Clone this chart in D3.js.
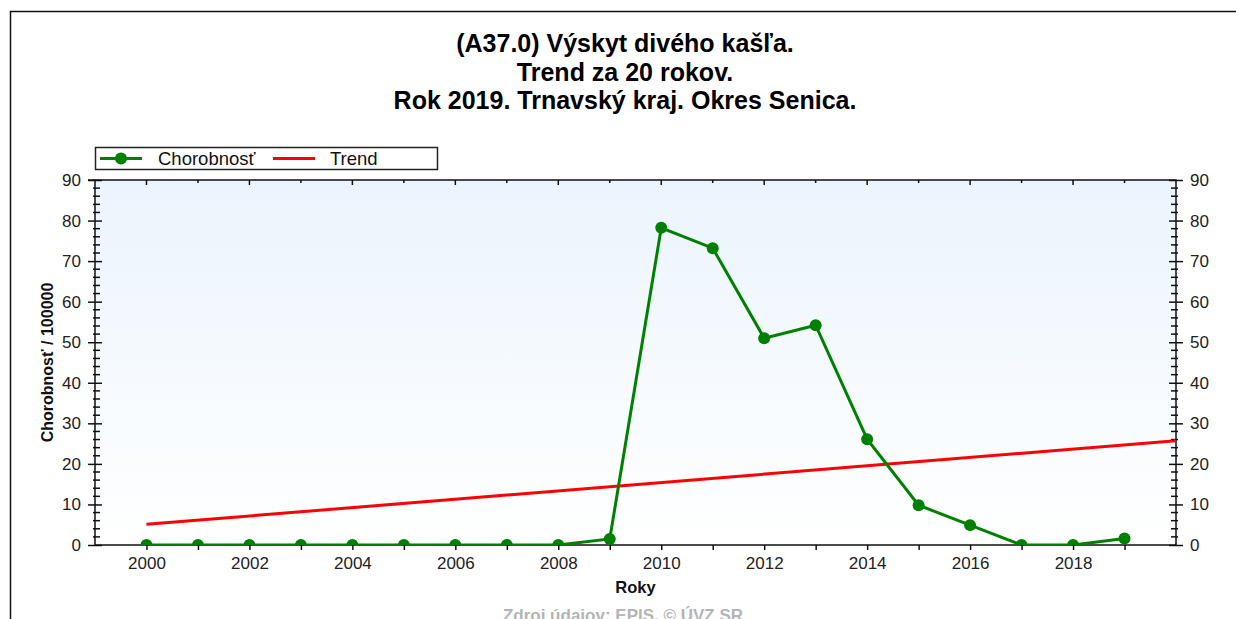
<!DOCTYPE html>
<html><head><meta charset="utf-8">
<script src="https://cdn.jsdelivr.net/npm/d3@7"></script>
<style>body{margin:0;background:#fff;}svg{display:block;font-family:"Liberation Sans",Arial,sans-serif;}</style>
</head><body>
<svg id="c" width="1236" height="619"></svg>
<script>
const titleLines = ["(A37.0) Výskyt divého kašľa.", "Trend za 20 rokov.", "Rok 2019. Trnavský kraj. Okres Senica."];
const years = [2000,2001,2002,2003,2004,2005,2006,2007,2008,2009,2010,2011,2012,2013,2014,2015,2016,2017,2018,2019];
const morbidity = [0,0,0,0,0,0,0,0,0,1.5,78.2,73.2,51.0,54.2,26.1,9.8,4.9,0,0,1.6];
const trendYears = [2000, 2020];
const trendValues = [5.1, 25.7];
const xLabelYears = [2000,2002,2004,2006,2008,2010,2012,2014,2016,2018];
const yTicks = [0,10,20,30,40,50,60,70,80,90];
const seriesNames = ["Chorobnosť", "Trend"];
const yAxisTitle = "Chorobnosť / 100000";
const xAxisTitle = "Roky";
const sourceText = "Zdroj údajov: EPIS, © ÚVZ SR";

const svg = d3.select("#c");
const L = 95, R = 1176, T = 180, B = 545;
const x = d3.scaleLinear().domain([1999, 2020]).range([L, R]);
const y = d3.scaleLinear().domain([0, 90]).range([B, T]);

// frame
svg.append("path").attr("d", `M10.5,619 L10.5,11.5 L1236,11.5`).attr("fill","none").attr("stroke","#111").attr("stroke-width",1.5);

// titles
svg.append("g").selectAll("text").data(titleLines).join("text")
  .attr("x", 625).attr("y", (d,i)=>52 + i*28.5)
  .attr("text-anchor","middle").attr("font-weight","bold").attr("font-size", 25).attr("fill","#000")
  .text(d=>d);

// plot background gradient
const defs = svg.append("defs");
const g = defs.append("linearGradient").attr("id","bg").attr("x1",0).attr("y1",0).attr("x2",0).attr("y2",1);
g.append("stop").attr("offset","0%").attr("stop-color","#ebf4fd");
g.append("stop").attr("offset","100%").attr("stop-color","#ffffff");
svg.append("rect").attr("x",L).attr("y",T).attr("width",R-L).attr("height",B-T).attr("fill","url(#bg)");
defs.append("clipPath").attr("id","clip").append("rect").attr("x",L).attr("y",T).attr("width",R-L).attr("height",B-T);

// axes
const yMinor = d3.range(0, 91, 2).filter(v => v % 10 !== 0);
const axisColor = "#111";
function styleAxis(sel){ sel.select(".domain").remove(); sel.selectAll("line").attr("stroke",axisColor).attr("stroke-width",1.5); sel.selectAll("text").attr("fill","#222").attr("font-size",17).attr("font-family","Liberation Sans, Arial, sans-serif"); }

// left axis
const gl = svg.append("g").attr("transform",`translate(${L},0)`);
gl.call(d3.axisLeft(y).tickValues(yTicks).tickSizeInner(7).tickSizeOuter(0).tickPadding(7).tickFormat(d3.format("d")));
styleAxis(gl);
gl.selectAll(".tick line").attr("x1",7);
gl.selectAll(".tickm").data(yMinor).join("line").attr("class","tickm")
  .attr("x1",-2).attr("x2",5).attr("y1",d=>y(d)).attr("y2",d=>y(d)).attr("stroke",axisColor).attr("stroke-width",1.5);

// right axis
const gr = svg.append("g").attr("transform",`translate(${R},0)`);
gr.call(d3.axisRight(y).tickValues(yTicks).tickSizeInner(7).tickSizeOuter(0).tickPadding(7).tickFormat(d3.format("d")));
styleAxis(gr);
gr.selectAll(".tick line").attr("x1",-7);
gr.selectAll(".tickm").data(yMinor).join("line").attr("class","tickm")
  .attr("x1",-5).attr("x2",2).attr("y1",d=>y(d)).attr("y2",d=>y(d)).attr("stroke",axisColor).attr("stroke-width",1.5);

// bottom axis
const gb = svg.append("g").attr("transform",`translate(0,${B})`);
gb.call(d3.axisBottom(x).tickValues(years).tickSizeInner(5).tickSizeOuter(0).tickPadding(7)
  .tickFormat(d => xLabelYears.includes(d) ? String(d) : ""));
styleAxis(gb);

// top axis ticks
const gt = svg.append("g");
gt.selectAll("line").data(years).join("line")
  .attr("x1",d=>x(d)).attr("x2",d=>x(d)).attr("y1",T).attr("y2",d=> T + (xLabelYears.includes(d)?5:3))
  .attr("stroke",axisColor).attr("stroke-width",1.5);

// axis lines
svg.append("rect").attr("x",L).attr("y",T).attr("width",R-L).attr("height",B-T).attr("fill","none").attr("stroke",axisColor).attr("stroke-width",1.5);
svg.append("line").attr("x1",L-7).attr("x2",L).attr("y1",T).attr("y2",T).attr("stroke",axisColor).attr("stroke-width",1.5);

// axis titles
svg.append("text").attr("transform",`translate(53,${(T+B)/2}) rotate(-90)`).attr("text-anchor","middle")
  .attr("font-weight","bold").attr("font-size",16).attr("fill","#111").text(yAxisTitle);
svg.append("text").attr("x",(L+R)/2).attr("y",593).attr("text-anchor","middle")
  .attr("font-weight","bold").attr("font-size",16.5).attr("fill","#111").text(xAxisTitle);
svg.append("text").attr("x",623).attr("y",621).attr("text-anchor","middle")
  .attr("font-weight","bold").attr("font-size",17).attr("fill","#b4b4b4").text(sourceText);

// series
const plot = svg.append("g").attr("clip-path","url(#clip)");
const trendData = trendYears.map((t,i)=>[t, trendValues[i]]);
plot.append("path").datum(trendData).attr("fill","none").attr("stroke","#ff0000").attr("stroke-width",3)
  .attr("d", d3.line().x(d=>x(d[0])).y(d=>y(d[1])));
const mData = years.map((t,i)=>[t, morbidity[i]]);
plot.append("path").datum(mData).attr("fill","none").attr("stroke","#008000").attr("stroke-width",3)
  .attr("d", d3.line().x(d=>x(d[0])).y(d=>y(d[1])));
plot.selectAll("circle").data(mData).join("circle").attr("cx",d=>x(d[0])).attr("cy",d=>y(d[1])).attr("r",6).attr("fill","#008000");

// legend
const lg = svg.append("g");
lg.append("rect").attr("x",95.5).attr("y",147.5).attr("width",342).attr("height",22).attr("fill","#fff").attr("stroke","#222").attr("stroke-width",1.5);
lg.append("line").attr("x1",100).attr("x2",142).attr("y1",158.5).attr("y2",158.5).attr("stroke","#008000").attr("stroke-width",3);
lg.append("circle").attr("cx",121).attr("cy",158.5).attr("r",6).attr("fill","#008000");
lg.append("line").attr("x1",273).attr("x2",315).attr("y1",158.5).attr("y2",158.5).attr("stroke","#ff0000").attr("stroke-width",3);
lg.selectAll("text.l").data(seriesNames).join("text").attr("class","l")
  .attr("x",(d,i)=> i===0 ? 158 : 330).attr("y",165).attr("font-size",18.5).attr("fill","#111").text(d=>d);
</script>
</body></html>
